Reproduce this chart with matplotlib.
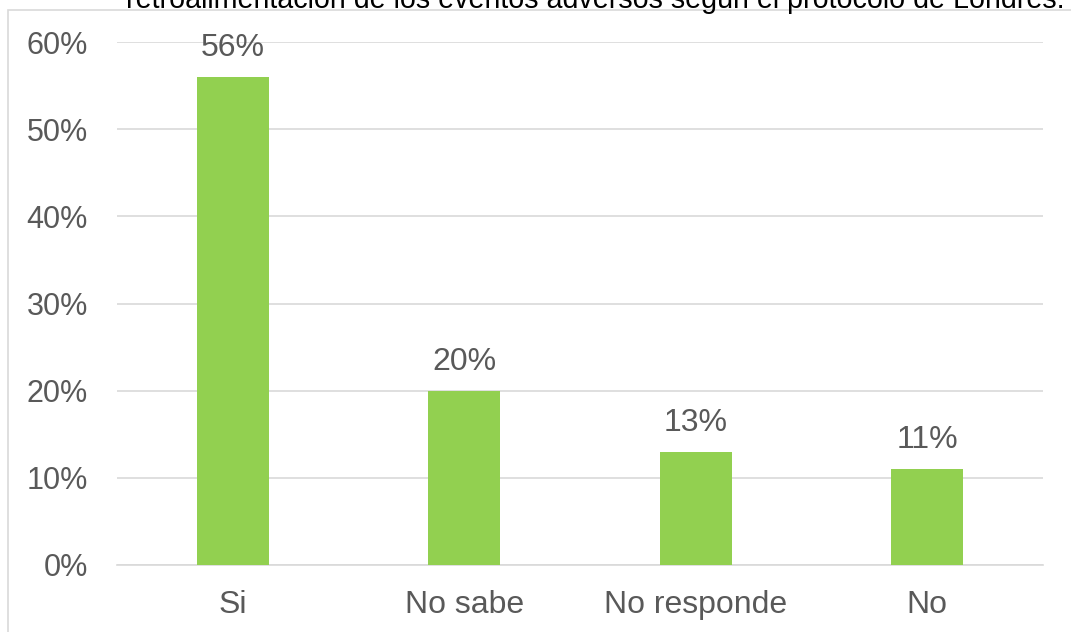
import matplotlib.pyplot as plt
import matplotlib.patches as patches
import numpy as np

categories = ['Si', 'No sabe', 'No responde', 'No']
values = [56, 20, 13, 11]
yticks = [0, 10, 20, 30, 40, 50, 60]
title = 'retroalimentación de los eventos adversos según el protocolo de Londres.'

plt.rcParams['font.family'] = ['Liberation Sans', 'DejaVu Sans']
text_color = '#595959'

W, H = 1071, 632
fig = plt.figure(figsize=(W / 100, H / 100), dpi=100)
ax = fig.add_axes([117 / W, 1 - 565 / H, (1043 - 117) / W, (565 - 42) / H])

x = np.arange(len(categories))
bars = ax.bar(x, values, width=0.31, color='#92D050', zorder=3)
ax.bar_label(bars, labels=[f'{v}%' for v in values], padding=10,
             fontsize=23, color=text_color)

ax.set_xlim(-0.5, len(categories) - 0.5)
ax.set_ylim(0, 60)
ax.set_yticks(yticks)
ax.set_yticklabels([f'{t}%' for t in yticks])
ax.set_xticks(x)
ax.set_xticklabels(categories)
ax.tick_params(axis='both', length=0, labelsize=22, labelcolor=text_color)
ax.tick_params(axis='x', labelsize=23, pad=18)
ax.tick_params(axis='y', pad=21)
ax.grid(axis='y', color='#D9D9D9', linewidth=1.2, zorder=0)
for s in ['top', 'right', 'left']:
    ax.spines[s].set_visible(False)
ax.spines['bottom'].set_color('#D9D9D9')
ax.spines['bottom'].set_linewidth(1.2)

# chart border (partly outside the image)
fig.patches.append(patches.Rectangle((8 / W, -0.1), 1.2, 1 - 10 / H + 0.1,
                                     transform=fig.transFigure, fill=False,
                                     edgecolor='#D9D9D9', linewidth=1.2))
fig.text(595 / W, 1 - 8 / H, title, ha='center', va='baseline',
         fontsize=20.6, color='black')

plt.savefig('out.png', dpi=100)
